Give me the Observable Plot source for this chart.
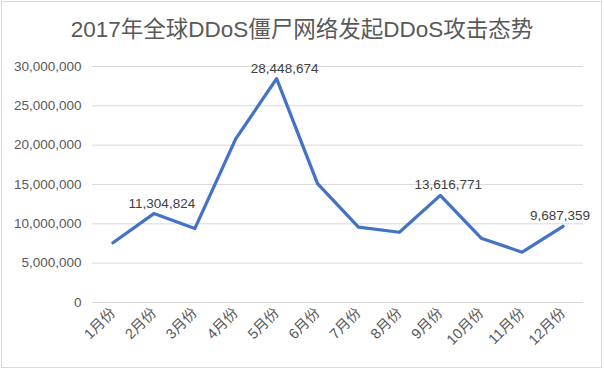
<!DOCTYPE html>
<html>
<head>
<meta charset="utf-8">
<script src="https://cdn.jsdelivr.net/npm/d3@7"></script>
<script src="https://cdn.jsdelivr.net/npm/@observablehq/plot@0.6"></script>
<style>
  body { margin: 0; background: #fff; }
  #wrap { position: relative; width: 604px; height: 373px; background: #fff; overflow: hidden; }
  #frame { position: absolute; left: 1px; top: 1px; width: 599px; height: 365px; border: 1px solid #d9d9d9; }
  #title { position: absolute; left: 0; top: 0; width: 604px; height: 60px; line-height: 60px; text-align: center;
           font-family: "Liberation Sans", "Noto Sans CJK SC", sans-serif; font-size: 22.5px; color: #595959; }
  #chart { position: absolute; left: 0; top: 50px; }
</style>
</head>
<body>
<div id="wrap">
  <div id="frame"></div>
  <div id="title">2017年全球DDoS僵尸网络发起DDoS攻击态势</div>
  <div id="chart"></div>
</div>
<script>
const months = ["1月份","2月份","3月份","4月份","5月份","6月份","7月份","8月份","9月份","10月份","11月份","12月份"];
const values = [7600000, 11304824, 9400000, 20800000, 28448674, 15100000, 9570000, 8930000, 13616771, 8170000, 6390000, 9687359];
const yTicks = [0, 5000000, 10000000, 15000000, 20000000, 25000000, 30000000];
const labeledMonths = ["2月份", "5月份", "9月份"];
const lastLabeled = ["12月份"];

const data = months.map((m, i) => ({month: m, value: values[i]}));
const fmt = d3.format(",");
const font = "'Liberation Sans', 'Noto Sans CJK SC', sans-serif";

const chart = Plot.plot({
  width: 604,
  height: 323,
  marginTop: 16,
  marginBottom: 71,
  marginLeft: 92,
  marginRight: 21,
  style: {fontFamily: font, fontSize: "13.5px", color: "#595959", background: "transparent"},
  x: {type: "point", domain: months, padding: 0.5, round: false, label: null},
  y: {domain: [0, 30000000], label: null},
  marks: [
    Plot.ruleY(yTicks, {stroke: "#d9d9d9", strokeWidth: 1}),
    Plot.axisY({ticks: yTicks, tickFormat: fmt, tickSize: 0, tickPadding: 11, label: null, fontSize: 13.5}),
    Plot.axisX({tickRotate: -45, tickSize: 0, tickPadding: 8, label: null, fontSize: 14.5}),
    Plot.line(data, {x: "month", y: "value", stroke: "#4472C4", strokeWidth: 3.25}),
    Plot.text(data.filter(d => labeledMonths.includes(d.month)), {x: "month", y: "value", text: d => fmt(d.value), lineAnchor: "bottom", dy: -6, dx: 8, fill: "#404040", fontSize: 13.5}),
    Plot.text(data.filter(d => lastLabeled.includes(d.month)), {x: "month", y: "value", text: d => fmt(d.value), lineAnchor: "bottom", dy: -6, dx: -3, fill: "#404040", fontSize: 13.5})
  ]
});
document.getElementById("chart").appendChild(chart);
</script>
</body>
</html>
